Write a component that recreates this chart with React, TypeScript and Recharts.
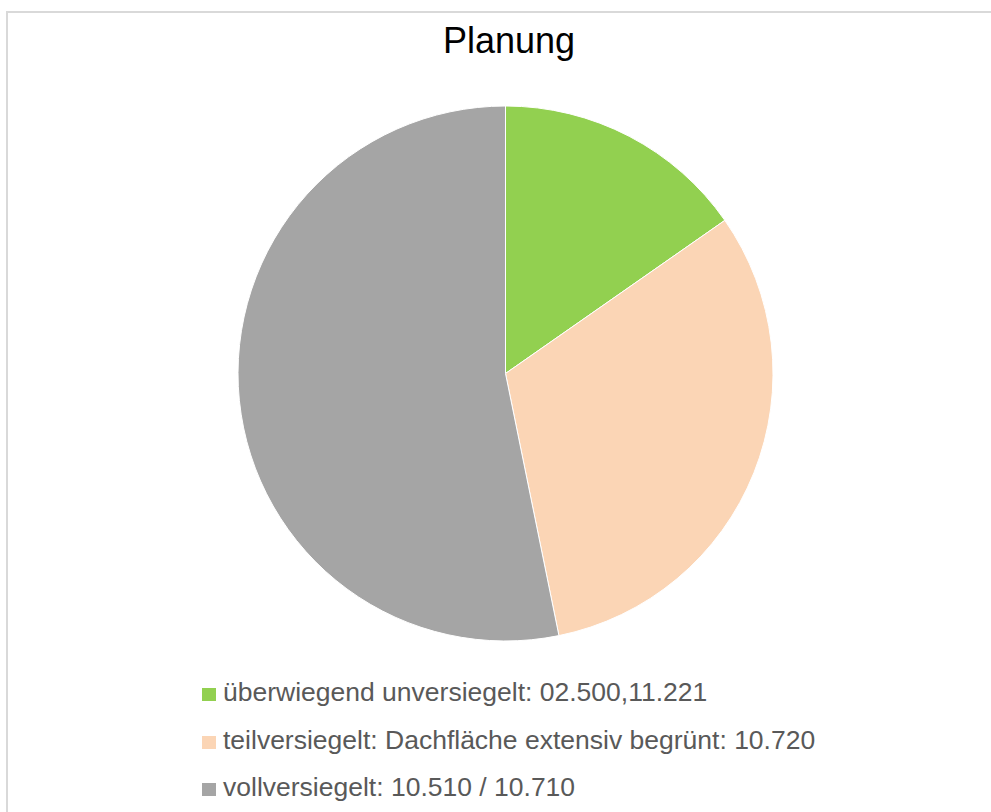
import { Legend, Pie, PieChart, Cell } from "recharts";

const categories = [
  "überwiegend unversiegelt: 02.500,11.221",
  "teilversiegelt: Dachfläche extensiv begrünt: 10.720",
  "vollversiegelt: 10.510 / 10.710",
];
const shares = [15.3, 31.5, 53.2];
const colors = ["#92d050", "#fbd5b5", "#a5a5a5"];

const data = categories.map((name, i) => ({ name, value: shares[i] }));

const FONT = "'Liberation Sans', Arial, sans-serif";

function LegendRows() {
  return (
    <div style={{ fontFamily: FONT }}>
      {data.map((d, i) => (
        <div key={d.name} style={{ display: "flex", alignItems: "baseline", height: 47.5 }}>
          <span
            style={{
              display: "inline-block",
              width: 14,
              height: 13,
              background: colors[i],
              marginRight: 7,
            }}
          />
          <span style={{ fontSize: 26.5, color: "#595959", whiteSpace: "nowrap" }}>{d.name}</span>
        </div>
      ))}
    </div>
  );
}

export default function App() {
  return (
    <div style={{ position: "absolute", left: 0, top: 0, width: 991, height: 812, overflow: "hidden", background: "#fff" }}>
      <div
        style={{
          position: "absolute",
          left: 6,
          top: 11,
          width: 1000,
          height: 820,
          borderLeft: "2px solid #d9d9d9",
          borderTop: "2px solid #d9d9d9",
        }}
      />
      <div
        style={{
          position: "absolute",
          left: 0,
          width: 1018,
          top: 20,
          textAlign: "center",
          fontFamily: FONT,
          fontSize: 36,
          color: "#000",
        }}
      >
        Planung
      </div>
      <PieChart width={991} height={812} style={{ position: "absolute", left: 0, top: 0 }}>
        <Pie
          data={data}
          dataKey="value"
          nameKey="name"
          cx={500.5}
          cy={368.5}
          outerRadius={267.5}
          startAngle={90}
          endAngle={-270}
          stroke="#fff"
          strokeWidth={1}
          isAnimationActive={false}
        >
          {data.map((d, i) => (
            <Cell key={d.name} fill={colors[i]} />
          ))}
        </Pie>
        <Legend
          layout="vertical"
          content={() => <LegendRows />}
          wrapperStyle={{ position: "absolute", left: 202, top: 677, width: 760 }}
        />
      </PieChart>
    </div>
  );
}
